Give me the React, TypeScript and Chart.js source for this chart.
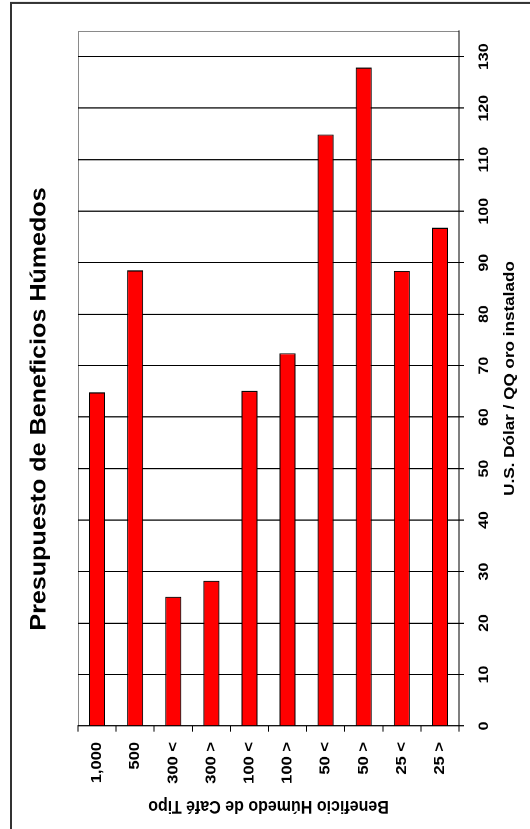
import React, { useEffect, useRef } from 'react';
import { Chart, registerables } from 'chart.js';

Chart.register(...registerables);

// ---- data ----
const categories = ['1,000', '500', '300 <', '300 >', '100 <', '100 >', '50 <', '50 >', '25 <', '25 >'];
const costs = [64.8, 88.5, 25.1, 28.2, 65.1, 72.4, 114.9, 127.9, 88.4, 96.8];
const valueTicks = [0, 10, 20, 30, 40, 50, 60, 70, 80, 90, 100, 110, 120, 130];
const chartTitle = 'Presupuesto de Beneficios Húmedos';
const categoryTitle = 'Beneficio Húmedo de Café Tipo';
const valueTitle = 'U.S. Dólar / QQ oro instalado';

// ---- geometry (chart drawn unrotated, then turned -90deg and stretched) ----
const VIEW_W = 530;
const VIEW_H = 829;
const S = 1.14; // stretch along the long side
const W = VIEW_H / S;
const PLOT_LEFT = (VIEW_H - 726) / S;
const PLOT_RIGHT = (VIEW_H - 31) / S;
const PLOT_TOP = 78;
const PLOT_BOTTOM = 459;
const TITLE_CENTER = (VIEW_H - 409) / S;
const FONT = '"Liberation Sans", Arial, Helvetica, sans-serif';

const framePlugin = {
  id: 'frameLines',
  afterLayout(chart: any) {
    const t = chart.titleBlock;
    if (t) {
      const half = Math.min(TITLE_CENTER, W - TITLE_CENTER);
      t.left = TITLE_CENTER - half;
      t.right = TITLE_CENTER + half;
      t.width = 2 * half;
    }
  },
  beforeDraw(chart: any) {
    const { ctx, chartArea: a } = chart;
    ctx.save();
    ctx.strokeStyle = '#8a8a8a';
    ctx.lineWidth = 1;
    ctx.beginPath();
    ctx.moveTo(a.left, a.top + 0.5);
    ctx.lineTo(a.right - 0.5, a.top + 0.5);
    ctx.lineTo(a.right - 0.5, a.bottom);
    ctx.stroke();
    ctx.strokeStyle = '#333';
    ctx.lineWidth = 2;
    const fx = (VIEW_H - 3) / S;
    ctx.beginPath();
    ctx.moveTo(0, 11);
    ctx.lineTo(fx, 11);
    ctx.lineTo(fx, chart.height + 2);
    ctx.stroke();
    ctx.restore();
  },
};

export default function App() {
  const ref = useRef<HTMLCanvasElement>(null);

  useEffect(() => {
    const chart = new Chart(ref.current as HTMLCanvasElement, {
      type: 'bar',
      data: {
        labels: categories,
        datasets: [
          {
            data: costs,
            backgroundColor: '#ff0000',
            borderColor: '#000000',
            borderWidth: 1,
            barPercentage: 0.42,
            categoryPercentage: 1,
          },
        ],
      },
      options: {
        indexAxis: 'y',
        animation: false,
        responsive: true,
        maintainAspectRatio: false,
        devicePixelRatio: 2,
        layout: { padding: { left: 0, right: W - PLOT_RIGHT, top: 0, bottom: 0 } },
        plugins: {
          legend: { display: false },
          tooltip: { enabled: false },
          title: {
            display: true,
            text: chartTitle,
            color: '#000',
            font: { family: FONT, size: 22, weight: 'bold' },
            padding: { top: 26.3, bottom: PLOT_TOP - 26.3 - 22 * 1.2 },
          },
        },
        scales: {
          y: {
            type: 'category',
            position: 'left',
            offset: true,
            afterFit: (s: any) => {
              s.width = PLOT_LEFT;
            },
            grid: {
              display: true,
              drawOnChartArea: false,
              drawTicks: true,
              tickLength: 5,
              color: '#000',
              offset: true,
            },
            border: { display: true, color: '#000', width: 1 },
            ticks: {
              color: '#000',
              padding: 9,
              font: { family: FONT, size: 14.5, weight: 'bold' },
            },
            title: {
              display: true,
              text: categoryTitle,
              color: '#000',
              font: { family: FONT, size: 16, weight: 'bold' },
              padding: { top: 10.6, bottom: 0 },
            },
          },
          x: {
            type: 'linear',
            position: 'bottom',
            min: 0,
            max: 135,
            afterBuildTicks: (s: any) => {
              s.ticks = valueTicks.map((v) => ({ value: v }));
            },
            afterFit: (s: any) => {
              s.height = 530 - PLOT_BOTTOM;
            },
            grid: {
              color: '#000',
              lineWidth: 1,
              tickLength: 5,
              drawOnChartArea: true,
            },
            border: { display: true, color: '#000', width: 1 },
            ticks: {
              color: '#000',
              padding: 11.6,
              font: { family: FONT, size: 14, weight: 'bold' },
            },
            title: {
              display: true,
              text: valueTitle,
              color: '#000',
              font: { family: FONT, size: 15, weight: 'bold' },
              padding: { top: 0, bottom: 11 },
            },
          },
        },
      },
      plugins: [framePlugin],
    } as any);
    return () => chart.destroy();
  }, []);

  return (
    <div
      style={{
        position: 'fixed',
        left: 0,
        top: 0,
        width: VIEW_W,
        height: VIEW_H,
        overflow: 'hidden',
        background: '#fff',
      }}
    >
      <div
        style={{
          position: 'absolute',
          left: 0,
          top: 0,
          width: W,
          height: VIEW_W,
          transformOrigin: '0 0',
          transform: `translate(0px, ${VIEW_H}px) rotate(-90deg) scale(${S}, 1)`,
        }}
      >
        <canvas ref={ref} />
      </div>
    </div>
  );
}
